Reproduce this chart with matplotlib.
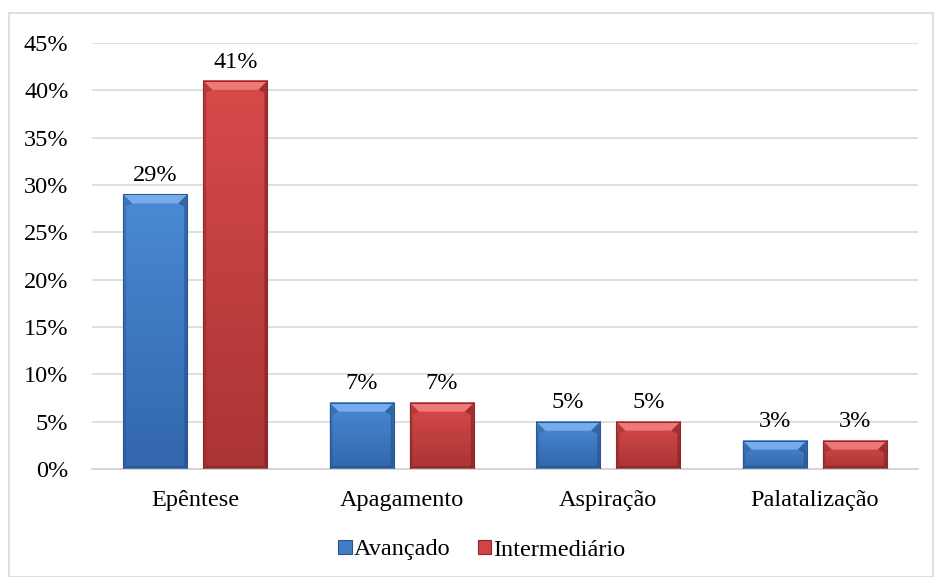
import matplotlib
matplotlib.use("Agg")
import matplotlib.pyplot as plt
import numpy as np
from matplotlib.patches import Polygon, Rectangle
from matplotlib.colors import LinearSegmentedColormap
from matplotlib.ticker import FuncFormatter

categories = ["Epêntese", "Apagamento", "Aspiração", "Palatalização"]
avancado = [29, 7, 5, 3]
intermediario = [41, 7, 5, 3]
series_names = ["Avançado", "Intermediário"]

plt.rcParams["font.family"] = ["Liberation Serif", "DejaVu Serif"]
FS = 17.5

W, H, DPI = 934, 577, 100
fig = plt.figure(figsize=(W / DPI, H / DPI), dpi=DPI)
ax = fig.add_axes([92 / W, 1 - 469 / H, (918 - 92) / W, (469 - 43) / H])

# outer chart frame
fig.patches.append(Rectangle((9 / W, 0), (W - 10) / W, (H - 13) / H,
                             transform=fig.transFigure, fill=False,
                             edgecolor="#d9d9d9", linewidth=1.2))

x = np.arange(len(categories))
bw = 0.31
off = 0.194

styles = {
    "blue": dict(top="#4a8ad4", bottom="#3266ad", light="#78b0ec", dark="#24508a",
                 edge="#2a5590", legend="#3f7dc7"),
    "red": dict(top="#d84a4a", bottom="#aa3434", light="#f07a7a", dark="#7e2222",
                edge="#8e2828", legend="#d24343"),
}

ax.set_xlim(-0.5, len(categories) - 0.5)
ax.set_ylim(0, 45)
ax.set_yticks(np.arange(0, 46, 5))
ax.yaxis.set_major_formatter(FuncFormatter(lambda v, p: f"{int(v)}%"))
ax.set_xticks(x)
ax.set_xticklabels(categories)
ax.grid(axis="y", color="#d9d9d9", linewidth=1.2)
ax.set_axisbelow(True)
for s in ["top", "right", "left"]:
    ax.spines[s].set_visible(False)
ax.spines["bottom"].set_color("#d0d0d0")
ax.spines["bottom"].set_linewidth(1.2)
ax.tick_params(axis="both", length=0, labelsize=FS, colors="black")
ax.tick_params(axis="x", pad=15)
ax.tick_params(axis="y", pad=17)


def bevel_bars(xs, vals, st, label):
    bars = ax.bar(xs, vals, bw, color=st["legend"], edgecolor=st["edge"],
                  linewidth=0.8, label=label, zorder=2)
    cmap = LinearSegmentedColormap.from_list("g", [st["bottom"], st["top"]])
    grad = np.linspace(0, 1, 256).reshape(-1, 1)
    for b in bars:
        x0, y0 = b.get_x(), b.get_y()
        x1, y1 = x0 + b.get_width(), y0 + b.get_height()
        ax.imshow(grad, cmap=cmap, origin="lower", aspect="auto",
                  extent=(x0, x1, y0, y1), zorder=2.5, interpolation="bilinear")
        (px0, py0) = ax.transData.transform((x0, y0))
        (px1, py1) = ax.transData.transform((x1, y1))
        d = min(9, (py1 - py0) / 2.5)
        s = 3
        polys = [
            ([(px0, py1), (px1, py1), (px1 - d, py1 - d), (px0 + d, py1 - d)], st["light"], 0.95),
            ([(px0, py0), (px0, py1), (px0 + d, py1 - d), (px0 + s, py1 - d - s),
              (px0 + s, py0 + s)], st["dark"], 0.35),
            ([(px1, py0), (px1, py1), (px1 - d, py1 - d), (px1 - s, py1 - d - s),
              (px1 - s, py0 + s)], st["dark"], 0.6),
            ([(px0, py0), (px1, py0), (px1 - s, py0 + s), (px0 + s, py0 + s)], st["dark"], 0.6),
        ]
        for pts, c, a in polys:
            ax.add_patch(Polygon(pts, closed=True, transform=None, facecolor=c,
                                 edgecolor="none", zorder=3, alpha=a))
        ax.add_patch(Rectangle((px0, py0), px1 - px0, py1 - py0, transform=None,
                               fill=False, edgecolor=st["edge"], linewidth=0.7, zorder=4))
        ax.annotate(f"{b.get_height():g}%", (b.get_x() + b.get_width() / 2, y1),
                    xytext=(0, 6), textcoords="offset points", ha="center",
                    va="bottom", fontsize=FS)
    return bars


bevel_bars(x - off, avancado, styles["blue"], series_names[0])
bevel_bars(x + off, intermediario, styles["red"], series_names[1])

ax.set_xlim(-0.5, len(categories) - 0.5)
ax.set_ylim(0, 45)

leg = ax.legend(loc="center", bbox_to_anchor=((482 - 92) / (918 - 92), (469 - 550) / (469 - 43)),
                ncol=2, frameon=False, fontsize=FS, handlelength=0.55,
                handleheight=0.55, handletextpad=0.1, columnspacing=1.1)

fig.savefig("out.png", dpi=DPI)
